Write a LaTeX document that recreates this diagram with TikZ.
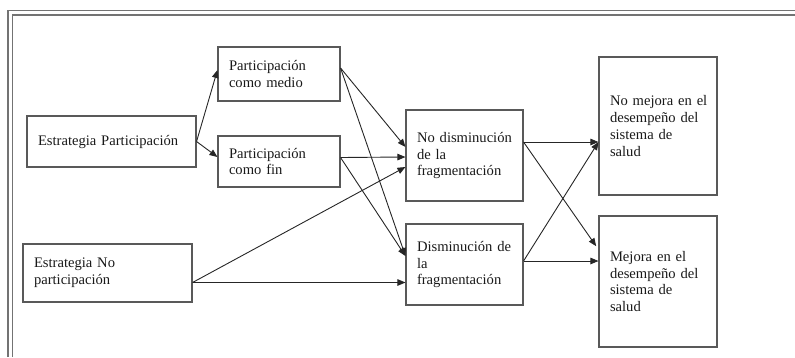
\documentclass[tikz,border=0pt]{standalone}
\usepackage{fontspec}
\setmainfont{Liberation Serif}
\usetikzlibrary{calc,arrows.meta}
\begin{document}
\begin{tikzpicture}[x=1pt,y=-1pt,
  box/.style={draw=black!65,line width=1.1pt,inner xsep=11pt,inner ysep=0pt,
    align=left,text=black!90,font=\fontsize{14.6}{16.8}\selectfont},
  arr/.style={draw=black!85,line width=0.9pt,-{Triangle[length=8pt,width=6.5pt]}},
  frame/.style={draw=black!55,line width=1.1pt}]
\useasboundingbox (0,0) rectangle (795,357);
% frame
\draw[frame] (8,357) -- (8,10.5) -- (795,10.5);
\draw[frame] (12.7,357) -- (12.7,15) -- (795,15);
% boxes
\node[box,text width=147pt,minimum height=51pt] (ep) at (111.5,141.5) {\mbox{Estrategia Participación}};
\node[box,text width=100pt,minimum height=54pt] (pm) at (279,74) {Participación\\\mbox{como medio}};
\node[box,text width=100pt,minimum height=51pt] (pf) at (279,161.5) {Participación\\como fin};
\node[box,text width=147pt,minimum height=58pt] (enp) at (107.5,273) {Estrategia No\\participación};
\node[box,text width=95pt,minimum height=91pt] (nd) at (464.5,155.5) {\mbox{No disminución}\\de la\\\mbox{fragmentación}};
\node[box,text width=95pt,minimum height=81pt] (dis) at (464.5,264.5) {\mbox{Disminución de}\\la\\\mbox{fragmentación}};
\node[box,text width=96pt,minimum height=138pt] (nm) at (658,126) {\mbox{No mejora en el}\\\mbox{desempeño del}\\sistema de\\salud};
\node[box,text width=96pt,minimum height=131pt] (m) at (658,281.5) {\mbox{Mejora en el}\\\mbox{desempeño del}\\sistema de\\salud};
% connectors
\draw[arr] (ep.east) -- ($(pm.west)+(0,-4)$);
\draw[arr] (ep.east) -- ($(pf.west)+(0,-4.5)$);
\draw[arr] ($(pm.east)+(0,-6)$) -- ($(nd.west)+(0,-8.5)$);
\draw[arr] ($(pm.east)+(0,-6)$) -- ($(dis.west)+(0,-8.5)$);
\draw[arr] ($(pf.east)+(0,-4)$) -- ($(nd.west)+(0,1.5)$);
\draw[arr] ($(pf.east)+(0,-4)$) -- ($(dis.west)+(0,-8.5)$);
\draw[arr] ($(enp.east)+(0,9.5)$) -- ($(nd.west)+(0,11.5)$);
\draw[arr] ($(enp.east)+(0,9.5)$) -- ($(dis.west)+(0,18)$);
\draw[arr] ($(nd.east)+(0,-13.5)$) -- ($(nm.west)+(0,16)$);
\draw[arr,shorten >=4pt] ($(nd.east)+(0,-13.5)$) -- ($(m.west)+(0,-32)$);
\draw[arr] ($(dis.east)+(0,-3.5)$) -- ($(m.west)+(0,-20.5)$);
\draw[arr] ($(dis.east)+(0,-3.5)$) -- ($(nm.west)+(0,16)$);
\end{tikzpicture}
\end{document}
